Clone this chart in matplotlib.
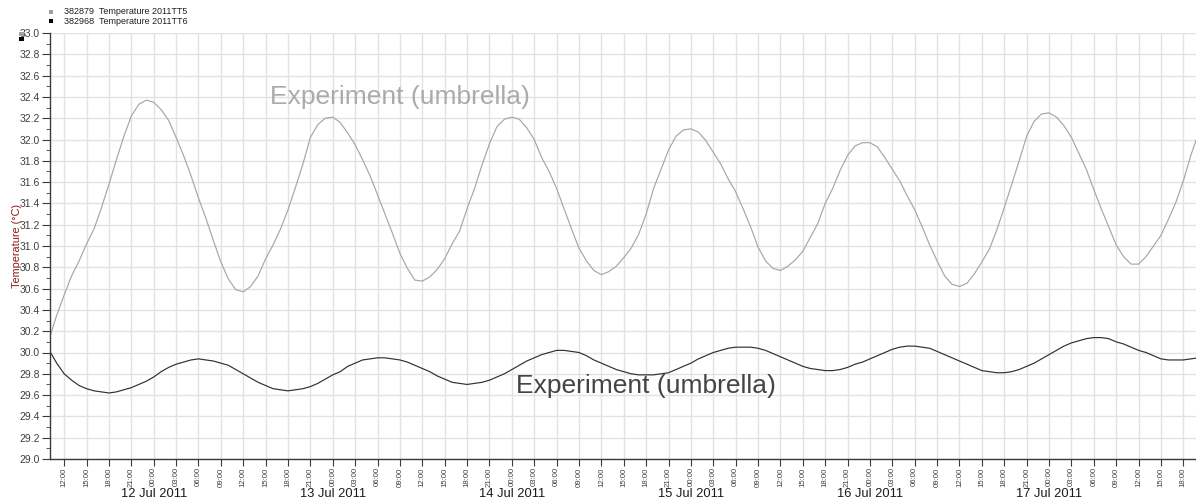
import matplotlib
matplotlib.use('Agg')
import matplotlib.pyplot as plt
import matplotlib.dates as mdates
from matplotlib.patches import Rectangle
from matplotlib.ticker import MultipleLocator
import pandas as pd

# hourly logger readings, starting 11 Jul 2011 10:00
start_time = '2011-07-11 10:00'

# 382879 Temperature 2011TT5 [degC]
temp_tt5 = [
    30.13, 30.35, 30.54, 30.72, 30.86, 31.02, 31.16, 31.36, 31.58, 31.81,
    32.03, 32.22, 32.33, 32.37, 32.35, 32.28, 32.18, 32.02, 31.85, 31.66,
    31.45, 31.26, 31.05, 30.85, 30.69, 30.59, 30.57, 30.62, 30.72, 30.88,
    31.01, 31.16, 31.34, 31.55, 31.77, 32.02, 32.14, 32.20, 32.21, 32.16,
    32.06, 31.95, 31.81, 31.66, 31.48, 31.30, 31.12, 30.93, 30.79, 30.68,
    30.67, 30.71, 30.78, 30.88, 31.02, 31.14, 31.35, 31.54, 31.76, 31.96,
    32.12, 32.19, 32.21, 32.19, 32.11, 32.00, 31.83, 31.70, 31.54, 31.35,
    31.16, 30.98, 30.86, 30.77, 30.73, 30.76, 30.81, 30.89, 30.98, 31.11,
    31.30, 31.54, 31.72, 31.90, 32.03, 32.09, 32.10, 32.07, 31.99, 31.88,
    31.77, 31.63, 31.51, 31.35, 31.18, 30.99, 30.86, 30.79, 30.77, 30.81,
    30.87, 30.95, 31.08, 31.21, 31.40, 31.54, 31.71, 31.85, 31.94, 31.97,
    31.97, 31.93, 31.83, 31.72, 31.61, 31.47, 31.34, 31.18, 31.01, 30.86,
    30.72, 30.64, 30.62, 30.65, 30.74, 30.85, 30.97, 31.15, 31.36, 31.58,
    31.80, 32.03, 32.17, 32.24, 32.25, 32.21, 32.13, 32.02, 31.87, 31.72,
    31.53, 31.35, 31.18, 31.01, 30.90, 30.83, 30.83, 30.90, 31.00, 31.10,
    31.25, 31.41, 31.61, 31.85, 32.05,
]

# 382968 Temperature 2011TT6 [degC]
temp_tt6 = [
    30.02, 29.90, 29.80, 29.74, 29.69, 29.66, 29.64, 29.63, 29.62, 29.63,
    29.65, 29.67, 29.70, 29.73, 29.77, 29.82, 29.86, 29.89, 29.91, 29.93,
    29.94, 29.93, 29.92, 29.90, 29.88, 29.84, 29.80, 29.76, 29.72, 29.69,
    29.66, 29.65, 29.64, 29.65, 29.66, 29.68, 29.71, 29.75, 29.79, 29.82,
    29.87, 29.90, 29.93, 29.94, 29.95, 29.95, 29.94, 29.93, 29.91, 29.88,
    29.85, 29.82, 29.78, 29.75, 29.72, 29.71, 29.70, 29.71, 29.72, 29.74,
    29.77, 29.80, 29.84, 29.88, 29.92, 29.95, 29.98, 30.00, 30.02, 30.02,
    30.01, 30.00, 29.97, 29.93, 29.90, 29.87, 29.84, 29.82, 29.80, 29.79,
    29.79, 29.79, 29.80, 29.81, 29.84, 29.87, 29.90, 29.94, 29.97, 30.00,
    30.02, 30.04, 30.05, 30.05, 30.05, 30.04, 30.02, 29.99, 29.96, 29.93,
    29.90, 29.87, 29.85, 29.84, 29.83, 29.83, 29.84, 29.86, 29.89, 29.91,
    29.94, 29.97, 30.00, 30.03, 30.05, 30.06, 30.06, 30.05, 30.04, 30.01,
    29.98, 29.95, 29.92, 29.89, 29.86, 29.83, 29.82, 29.81, 29.81, 29.82,
    29.84, 29.87, 29.90, 29.94, 29.98, 30.02, 30.06, 30.09, 30.11, 30.13,
    30.14, 30.14, 30.13, 30.10, 30.08, 30.05, 30.02, 30.00, 29.97, 29.94,
    29.93, 29.93, 29.93, 29.94, 29.95,
]

legend_labels = ['382879  Temperature 2011TT5', '382968  Temperature 2011TT6']
day_labels = ['12 Jul 2011', '13 Jul 2011', '14 Jul 2011',
              '15 Jul 2011', '16 Jul 2011', '17 Jul 2011']
note_text = 'Experiment (umbrella)'

plt.rcParams['font.family'] = ['Liberation Sans', 'DejaVu Sans']

times = pd.date_range(start_time, periods=len(temp_tt5), freq='h')

W, H = 1196, 500
fig = plt.figure(figsize=(W / 100, H / 100), dpi=100)
ax = fig.add_axes([50 / W, 41 / H, 1 - 50 / W, 426 / H])

ax.plot(times, temp_tt5, color='#a6a6a6', lw=0.85)
ax.plot(times, temp_tt6, color='#303030', lw=0.85)

ax.set_xlim(pd.Timestamp('2011-07-11 10:06'), pd.Timestamp('2011-07-17 19:42'))
ax.set_ylim(29.0, 33.0)

# axis styling
ax.xaxis.set_major_locator(mdates.HourLocator(byhour=range(0, 24, 3)))
ax.xaxis.set_major_formatter(mdates.DateFormatter('%H:%M'))
ax.yaxis.set_major_locator(MultipleLocator(0.2))
ax.yaxis.set_minor_locator(MultipleLocator(0.1))
ax.yaxis.set_major_formatter(plt.FuncFormatter(lambda v, p: '%.1f' % v))
ax.grid(True, which='major', color='#e2e2e2', lw=1)
ax.set_axisbelow(True)
ax.spines['top'].set_visible(False)
ax.spines['right'].set_visible(False)
for s in ['left', 'bottom']:
    ax.spines[s].set_color('#3a3a3a')
    ax.spines[s].set_linewidth(1)
ax.tick_params(axis='y', which='major', length=6, color='#3a3a3a',
               labelsize=7.5, labelcolor='#404040', pad=1)
ax.tick_params(axis='y', which='minor', length=3, color='#3a3a3a')
ax.tick_params(axis='x', which='major', length=5, color='#3a3a3a',
               labelsize=5.6, labelcolor='#404040', labelrotation=90, pad=1)

# day names under the midnight ticks
for i, lab in enumerate(day_labels):
    day = pd.Timestamp('2011-07-12') + pd.Timedelta(days=i)
    ax.text(day, -0.081, lab, transform=ax.get_xaxis_transform(),
            ha='center', va='center', fontsize=9.3, color='#1a1a1a')

# annotations on both curves
ax.text(pd.Timestamp('2011-07-12 15:36'), 32.333, note_text,
        ha='left', va='baseline', fontsize=19, color='#ababab')
ax.text(pd.Timestamp('2011-07-14 00:34'), 29.623, note_text,
        ha='left', va='baseline', fontsize=19, color='#444444')

fig.text(17 / W, 1 - 246 / H, 'Temperature (°C)', rotation=90,
         ha='center', va='center', fontsize=7.8, color='#8b1a1a')

# series legend in the top-left corner
colors = ['#a0a0a0', '#000000']
for i, (lab, c) in enumerate(zip(legend_labels, colors)):
    yc = 12 + 9 * i
    fig.add_artist(Rectangle((49 / W, 1 - (yc + 2) / H), 4 / W, 4 / H,
                             transform=fig.transFigure, color=c, lw=0))
    fig.text(64 / W, 1 - yc / H, lab, ha='left', va='center',
             fontsize=6.5, color='#202020')
    # scale markers next to the y axis
    fig.add_artist(Rectangle((19 / W, 1 - (36 + 5 * i) / H), 5 / W, 4 / H,
                             transform=fig.transFigure, color=c, lw=0))

plt.savefig('out.png', dpi=100, facecolor='white')
